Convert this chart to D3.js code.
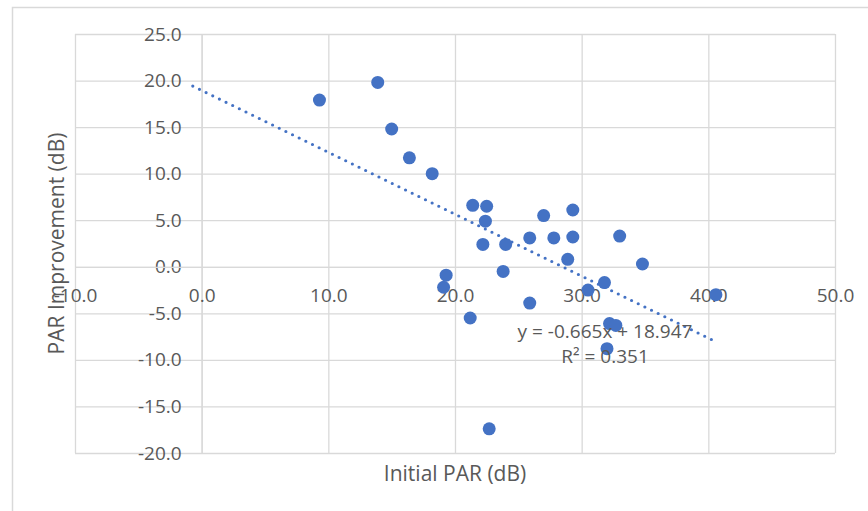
<!DOCTYPE html>
<html>
<head>
<meta charset="utf-8">
<script src="https://cdn.jsdelivr.net/npm/d3@7"></script>
<style>
  html, body { margin: 0; padding: 0; background: #fff; }
  #chart { width: 868px; height: 511px; }
  text { font-family: "Open Sans", sans-serif; fill: #595959; }
</style>
</head>
<body>
<div id="chart"></div>
<script>
//Datos
const initialPar = [9.3, 13.9, 15.0, 16.4, 18.2, 21.4, 22.5, 22.4, 27.0, 22.2,
    24.0, 25.9, 27.8, 23.8, 19.3, 19.1, 25.9, 21.2, 29.3, 29.3,
    33.0, 28.9, 34.8, 31.8, 30.5, 40.6, 32.2, 32.7, 32.0, 22.7];
const parImprovement = [17.9, 19.8, 14.8, 11.7, 10.0, 6.6, 6.5, 4.9, 5.5, 2.4,
    2.4, 3.1, 3.1, -0.5, -0.9, -2.2, -3.9, -5.5, 6.1, 3.2,
    3.3, 0.8, 0.3, -1.7, -2.5, -3.0, -6.1, -6.3, -8.8, -17.4];

//Línea de tendencia (Excel: lineal, previsión hacia atrás 10)
const trendSlope = -0.665, trendIntercept = 18.947, trendR2 = 0.351, trendBackward = 10;

const xTicks = [-10, 0, 10, 20, 30, 40, 50];
const yTicks = [-20, -15, -10, -5, 0, 5, 10, 15, 20, 25];

const COLOR_POINT = '#4472C4', COLOR_GRID = '#D9D9D9';

//Formato con guion normal, como Excel
const fmt = d => d.toFixed(1);

let margin = {top: 34, right: 33, bottom: 58, left: 75},
    width = 868 - margin.left - margin.right,
    height = 511 - margin.top - margin.bottom;

let root = d3.select('#chart').append('svg')
    .attr('width', 868).attr('height', 511);

//Borde del área del gráfico
root.append('rect')
    .attr('x', 12.5).attr('y', 7.5)
    .attr('width', 900).attr('height', 600)
    .attr('fill', 'none').attr('stroke', COLOR_GRID).attr('stroke-width', 1.5);

let svg = root.append('g')
    .attr('transform', 'translate(' + margin.left + ',' + margin.top + ')');

let x = d3.scaleLinear().domain([-10, 50]).range([0, width]);
let y = d3.scaleLinear().domain([-20, 25]).range([height, 0]);

//Rejilla
svg.append('g')
    .call(d3.axisLeft(y).tickValues(yTicks).tickSize(-width).tickFormat(''))
    .call(g => g.select('.domain').remove())
    .call(g => g.selectAll('line').attr('stroke', COLOR_GRID).attr('stroke-width', 1.3));

svg.append('g')
    .attr('transform', 'translate(0,' + height + ')')
    .call(d3.axisBottom(x).tickValues(xTicks).tickSize(-height).tickFormat(''))
    .call(g => g.select('.domain').remove())
    .call(g => g.selectAll('line').attr('stroke', COLOR_GRID).attr('stroke-width', 1.3));

//Ejes cruzando en 0
svg.append('g')
    .attr('transform', 'translate(' + x(0) + ',0)')
    .call(d3.axisLeft(y).tickValues(yTicks).tickSize(0).tickPadding(20).tickFormat(fmt))
    .call(g => g.select('.domain').attr('stroke', COLOR_GRID).attr('stroke-width', 1.3))
    .call(g => g.selectAll('text').attr('font-size', 19).attr('fill', '#595959')
        .style('font-family', '"Open Sans", sans-serif'));

svg.append('g')
    .attr('transform', 'translate(0,' + y(0) + ')')
    .call(d3.axisBottom(x).tickValues(xTicks).tickSize(0).tickPadding(21.5).tickFormat(fmt))
    .call(g => g.select('.domain').attr('stroke', COLOR_GRID).attr('stroke-width', 1.3))
    .call(g => g.selectAll('text').attr('font-size', 19).attr('fill', '#595959')
        .style('font-family', '"Open Sans", sans-serif'));

//Puntos
let points = initialPar.map((v, i) => ({x: v, y: parImprovement[i]}));

svg.append('g')
    .selectAll('circle')
    .data(points)
    .enter()
    .append('circle')
    .attr('cx', d => x(d.x))
    .attr('cy', d => y(d.y))
    .attr('r', 6.5)
    .attr('fill', COLOR_POINT);

//Tendencia
let trendX = [d3.min(initialPar) - trendBackward, d3.max(initialPar)];
svg.append('line')
    .attr('x1', x(trendX[0])).attr('y1', y(trendSlope * trendX[0] + trendIntercept))
    .attr('x2', x(trendX[1])).attr('y2', y(trendSlope * trendX[1] + trendIntercept))
    .attr('stroke', COLOR_POINT)
    .attr('stroke-width', 3.2)
    .attr('stroke-linecap', 'round')
    .attr('stroke-dasharray', '0,7.4');

let eq = svg.append('text')
    .attr('text-anchor', 'middle')
    .attr('font-size', 19)
    .attr('x', 605 - margin.left)
    .attr('y', 338 - margin.top);
eq.append('tspan').text('y = ' + trendSlope.toFixed(3) + 'x + ' + trendIntercept.toFixed(3));
eq.append('tspan').attr('x', 605 - margin.left).attr('dy', 25).text('R² = ' + trendR2.toFixed(3));

//Títulos de ejes
root.append('text')
    .attr('x', margin.left + width / 2)
    .attr('y', 481)
    .attr('text-anchor', 'middle')
    .attr('font-size', 21)
    .text('Initial PAR (dB)');

root.append('text')
    .attr('transform', 'translate(64,' + (margin.top + height / 2) + ') rotate(-90)')
    .attr('text-anchor', 'middle')
    .attr('font-size', 21)
    .text('PAR Improvement (dB)');
</script>
</body>
</html>
